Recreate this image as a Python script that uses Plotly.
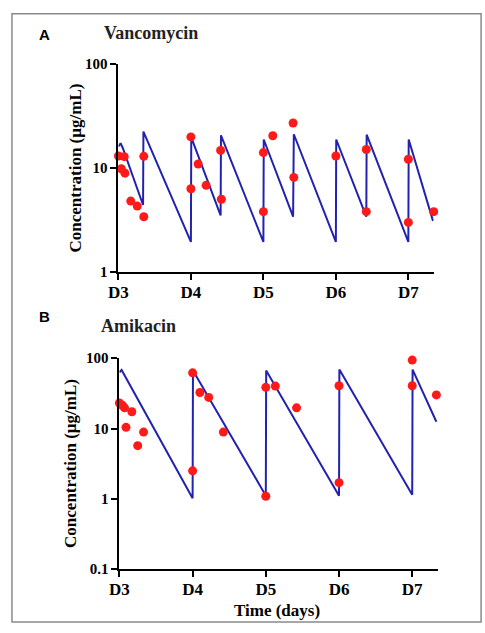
import plotly.graph_objects as go

# ---------------- data ----------------
day_ticks = [3, 4, 5, 6, 7]
day_labels = ["D3", "D4", "D5", "D6", "D7"]

# Vancomycin (panel A)
vanco_model_t = [3.0, 3.03, 3.06, 3.34, 3.345, 4.0, 4.005, 4.41, 4.415, 5.0, 5.005, 5.41, 5.42, 6.0, 6.005, 6.42, 6.425, 7.0, 7.005, 7.34]
vanco_model_c = [16.0, 17.2, 15.5, 4.4, 22.3, 1.95, 19.6, 3.5, 20.5, 1.95, 18.7, 3.4, 21.0, 1.95, 18.7, 3.4, 20.8, 1.95, 18.7, 3.1]
vanco_obs_t = [3.0, 3.08, 3.04, 3.09, 3.17, 3.26, 3.35, 3.35, 4.0, 4.0, 4.1, 4.21, 4.41, 4.42, 5.0, 5.0, 5.13, 5.41, 5.42, 6.0, 6.42, 6.42, 7.0, 7.0, 7.35]
vanco_obs_c = [13.0, 12.8, 9.8, 8.9, 4.8, 4.3, 3.4, 12.9, 19.8, 6.3, 10.9, 6.8, 14.7, 5.0, 14.0, 3.8, 20.3, 26.9, 8.1, 13.0, 15.0, 3.8, 12.1, 3.0, 3.8]
vanco_yticks = [1, 10, 100]
vanco_ylabels = ["1", "10", "100"]

# Amikacin (panel B)
amik_model_t = [3.0, 3.03, 4.0, 4.005, 5.0, 5.005, 6.0, 6.005, 7.0, 7.005, 7.33]
amik_model_c = [63, 68, 1.02, 67, 1.11, 67, 1.11, 69, 1.14, 69, 12.5]
amik_obs_t = [3.0, 3.04, 3.07, 3.17, 3.09, 3.25, 3.33, 4.0, 4.0, 4.1, 4.22, 4.42, 5.0, 5.0, 5.13, 5.42, 6.0, 6.0, 7.0, 7.0, 7.33]
amik_obs_c = [23.1, 21.4, 19.7, 17.3, 10.4, 5.7, 8.9, 2.5, 62, 32.5, 27.7, 8.9, 1.09, 38.5, 40.1, 19.7, 1.7, 40.6, 40.6, 94, 30.1]
amik_yticks = [0.1, 1, 10, 100]
amik_ylabels = ["0.1", "1", "10", "100"]

# ---------------- figure ----------------
W, H = 485, 633
LINE = "#2222b0"
DOT = "#ff1a1a"
SERIF = "Liberation Serif"

def px(x):
    return x / W

def py(y):
    return 1 - y / H

fig = go.Figure()

fig.add_trace(go.Scatter(x=vanco_model_t, y=vanco_model_c, mode="lines",
                         line=dict(color=LINE, width=2), xaxis="x", yaxis="y",
                         showlegend=False, cliponaxis=False))
fig.add_trace(go.Scatter(x=vanco_obs_t, y=vanco_obs_c, mode="markers",
                         marker=dict(color=DOT, size=9), xaxis="x", yaxis="y",
                         showlegend=False, cliponaxis=False))
fig.add_trace(go.Scatter(x=amik_model_t, y=amik_model_c, mode="lines",
                         line=dict(color=LINE, width=2), xaxis="x2", yaxis="y2",
                         showlegend=False, cliponaxis=False))
fig.add_trace(go.Scatter(x=amik_obs_t, y=amik_obs_c, mode="markers",
                         marker=dict(color=DOT, size=9), xaxis="x2", yaxis="y2",
                         showlegend=False, cliponaxis=False))

axis_common = dict(showline=True, linecolor="black", linewidth=2, ticks="outside",
                   ticklen=6, tickwidth=2, tickcolor="black", showgrid=False,
                   zeroline=False)
xfont = dict(family=SERIF, size=17, color="black", weight="bold")
yfont = dict(family=SERIF, size=15, color="black", weight="bold")

fig.update_layout(
    width=W, height=H,
    margin=dict(l=0, r=0, t=0, b=0),
    paper_bgcolor="white", plot_bgcolor="white",
    xaxis=dict(domain=[px(110.7), px(432.7)], range=[3, 7.351], anchor="y",
               tickvals=day_ticks, ticktext=day_labels, tickfont=xfont,
               ticklabelstandoff=-3, **axis_common),
    yaxis=dict(domain=[py(271), py(57)], type="log", range=[0, 2], anchor="x",
               tickvals=vanco_yticks, ticktext=vanco_ylabels, tickfont=yfont, **axis_common),
    xaxis2=dict(domain=[px(111.7), px(436.7)], range=[3, 7.348], anchor="y2",
                tickvals=day_ticks, ticktext=day_labels, tickfont=xfont,
                ticklabelstandoff=-3, **axis_common),
    yaxis2=dict(domain=[py(575.7), py(359.3)], type="log", range=[-1, 2], anchor="x2",
                tickvals=amik_yticks, ticktext=amik_ylabels, tickfont=yfont, **axis_common),
)

annos = [
    dict(text="A", x=px(35), y=py(27), font=dict(family="Liberation Sans", size=15, color="black", weight="bold")),
    dict(text="B", x=px(35), y=py(317), font=dict(family="Liberation Sans", size=15, color="black", weight="bold")),
    dict(text="Vancomycin", x=px(144), y=py(26), font=dict(family=SERIF, size=18, color="#222", weight="bold")),
    dict(text="Amikacin", x=px(131), y=py(326), font=dict(family=SERIF, size=18, color="#222", weight="bold")),
    dict(text="Concentration (µg/mL)", x=px(67), y=py(164), textangle=-90,
         font=dict(family=SERIF, size=17, color="black", weight="bold")),
    dict(text="Concentration (µg/mL)", x=px(61), y=py(467), textangle=-90,
         font=dict(family=SERIF, size=17, color="black", weight="bold")),
    dict(text="Time (days)", x=px(273), y=py(618),
         font=dict(family=SERIF, size=17, color="black", weight="bold")),
]
for a in annos:
    a.update(xref="paper", yref="paper", showarrow=False, xanchor="center", yanchor="middle")
fig.update_layout(annotations=annos)

fig.add_shape(type="rect", xref="paper", yref="paper",
              x0=px(2), x1=px(481), y0=py(630), y1=py(6),
              line=dict(color="#8a8a8a", width=1.5))

fig.write_html("out.html")
